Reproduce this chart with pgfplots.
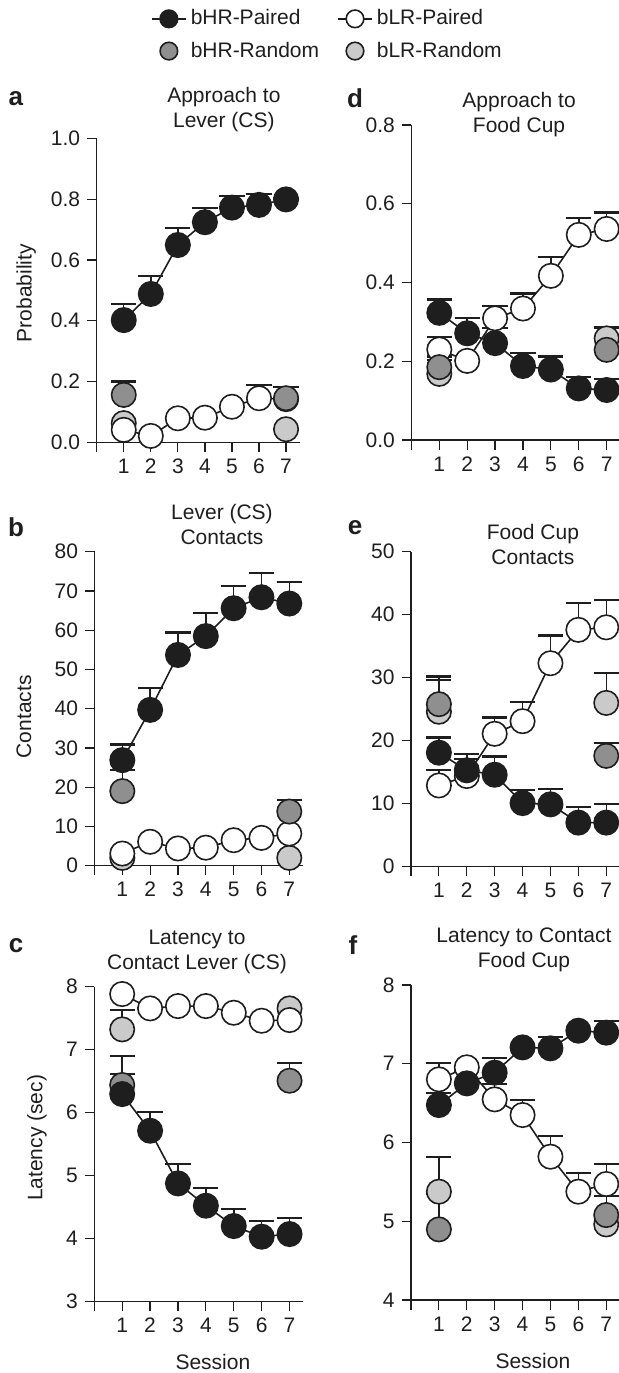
\documentclass[border=0pt]{standalone}
\usepackage{fontspec}
\setmainfont{Liberation Sans}
\usepackage{pgfplots}
\usepackage{pgfplotstable}
\pgfplotsset{compat=1.18}

\definecolor{ink}{RGB}{30,30,30}
\definecolor{hrcol}{RGB}{30,30,30}
\definecolor{hrrand}{RGB}{143,143,143}
\definecolor{lrrand}{RGB}{202,202,202}
\newcommand\fs{\fontsize{10.5}{12.5}\selectfont}

% x  hp hpe (bHR-Paired)  lp lpe (bLR-Paired)  hr hre (bHR-Random)  lr lre (bLR-Random)
\pgfplotstableread{
x hp    hpe   lp    lpe   hr    hre   lr    lre
1 0.402 0.053 0.041 0     0.156 0.044 0.063 0
2 0.488 0.059 0.021 0     nan   nan   nan   nan
3 0.649 0.057 0.079 0     nan   nan   nan   nan
4 0.724 0.048 0.081 0     nan   nan   nan   nan
5 0.772 0.039 0.117 0     nan   nan   nan   nan
6 0.781 0.035 0.145 0.044 nan   nan   nan   nan
7 0.799 0.005 0.142 0     0.145 0.038 0.043 0
}\tabA
\pgfplotstableread{
x hp    hpe   lp    lpe   hr    hre   lr    lre
1 26.9  4.0   3.1   0     19.0  5.4   2.0   0
2 39.7  5.5   6.1   0     nan   nan   nan   nan
3 53.7  5.7   4.4   0     nan   nan   nan   nan
4 58.5  5.8   4.6   0     nan   nan   nan   nan
5 65.6  5.7   6.5   0     nan   nan   nan   nan
6 68.4  6.2   7.1   0     nan   nan   nan   nan
7 66.8  5.4   8.2   0     13.8  2.9   2.0   0
}\tabB
\pgfplotstableread{
x hp    hpe   lp    lpe   hr    hre   lr    lre
1 6.296 0.314 7.884 0     6.44  0.46  7.323 0.307
2 5.714 0.302 7.656 0     nan   nan   nan   nan
3 4.878 0.302 7.693 0     nan   nan   nan   nan
4 4.524 0.286 7.693 0     nan   nan   nan   nan
5 4.201 0.265 7.587 0     nan   nan   nan   nan
6 4.032 0.248 7.460 0     nan   nan   nan   nan
7 4.074 0.249 7.471 0     6.508 0.286 7.656 0
}\tabC
\pgfplotstableread{
x hp    hpe   lp    lpe   hr    hre   lr    lre
1 0.323 0.034 0.230 0.031 0.185 0.027 0.168 0.035
2 0.271 0.038 0.201 0     nan   nan   nan   nan
3 0.246 0.038 0.309 0.032 nan   nan   nan   nan
4 0.188 0.034 0.334 0.038 nan   nan   nan   nan
5 0.179 0.033 0.417 0.047 nan   nan   nan   nan
6 0.131 0.030 0.521 0.043 nan   nan   nan   nan
7 0.127 0.027 0.536 0.042 0.229 0     0.258 0.028
}\tabD
\pgfplotstableread{
x hp    hpe   lp    lpe   hr    hre   lr    lre
1 18.1  2.4   12.9  2.4   25.8  3.9   24.6  5.6
2 15.3  1.8   14.4  3.5   nan   nan   nan   nan
3 14.6  2.9   21.1  2.6   nan   nan   nan   nan
4 10.1  2.1   23.1  3.0   nan   nan   nan   nan
5 9.9   2.4   32.3  4.4   nan   nan   nan   nan
6 7.0   2.5   37.6  4.2   nan   nan   nan   nan
7 7.0   2.9   38.0  4.4   17.6  2.0   26.0  4.7
}\tabE
\pgfplotstableread{
x hp    hpe   lp    lpe   hr    hre   lr    lre
1 6.476 0.157 6.802 0.203 4.897 0.449 5.376 0.444
2 6.751 0.160 6.955 0     nan   nan   nan   nan
3 6.887 0.182 6.548 0.195 nan   nan   nan   nan
4 7.208 0     6.349 0.191 nan   nan   nan   nan
5 7.196 0.148 5.820 0.263 nan   nan   nan   nan
6 7.420 0     5.376 0.241 nan   nan   nan   nan
7 7.395 0.152 5.473 0.254 5.079 0.241 4.960 0
}\tabF

\tikzset{
  letter/.style={font=\bfseries\fontsize{13}{15}\selectfont, text=ink},
  head/.style={font=\fs, align=center, anchor=center, text=ink, inner sep=0pt},
}

\pgfplotsset{
  panel/.style={
    scale only axis,
    anchor=south west,
    axis lines=left,
    axis line style={-, line width=0.6pt, ink},
    tick align=outside,
    major tick length=4.75pt,
    tick style={line width=0.6pt, ink},
    xmin=0,
    xtick={0,...,7},
    xticklabels={,1,2,3,4,5,6,7},
    clip=false,
    ticklabel style={font=\fs, text=ink},
    /pgf/number format/assume math mode=true,
    label style={font=\fs, text=ink},
  },
  errs/.style={
    error bars/.cd, y dir=plus, y explicit,
    error mark=|,
    error mark options={line width=1.1pt, mark size=6.3pt, ink},
    error bar style={line width=0.75pt, ink},
  },
  hrpaired/.style={ink, line width=0.8pt, mark=*, mark size=6.1pt,
    mark options={fill=hrcol, draw=ink, line width=0.8pt}},
  lrpaired/.style={ink, line width=0.8pt, mark=*, mark size=6.1pt,
    mark options={fill=white, draw=ink, line width=0.8pt}},
  hrrandom/.style={only marks, mark=*, mark size=6.1pt,
    mark options={fill=hrrand, draw=ink, line width=0.8pt}},
  lrrandom/.style={only marks, mark=*, mark size=6.1pt,
    mark options={fill=lrrand, draw=ink, line width=0.8pt}},
}

\newcommand\series[1]{%
  \addplot[lrrandom, errs] table[x=x, y=lr, y error=lre] {#1};
  \addplot[lrpaired, errs] table[x=x, y=lp, y error=lpe] {#1};
  \addplot[hrrandom, errs] table[x=x, y=hr, y error=hre] {#1};
  \addplot[hrpaired, errs] table[x=x, y=hp, y error=hpe] {#1};
}

\begin{document}
\begin{tikzpicture}
\path[use as bounding box] (0,0) rectangle (309.5pt,-686.5pt);
\clip (0,0) rectangle (309.5pt,-686.5pt);

% a
\begin{axis}[panel,
    at={(48.35pt,-221.15pt)}, width=101.45pt, height=152pt,
    xmax=7.5, ymin=0, ymax=1,
    ytick={0,0.2,0.4,0.6,0.8,1},
    yticklabel style={/pgf/number format/.cd, fixed, fixed zerofill, precision=1},
    ylabel={Probability},
    ylabel style={at={(axis description cs:-0.348,0.491)}, anchor=center},
    legend columns=2,
    legend style={draw=none, fill=none, font=\fs, text=ink,
      at={(axis description cs:1.142,1.340)}, anchor=center,
      row sep=3pt,
      /tikz/every even column/.append style={column sep=7pt}},
    legend cell align=left,
]
\addlegendimage{hrpaired, mark size=4.4pt}
\addlegendentry{bHR-Paired}
\addlegendimage{lrpaired, mark size=4.4pt}
\addlegendentry{bLR-Paired}
\addlegendimage{hrrandom, mark size=4.4pt}
\addlegendentry{bHR-Random}
\addlegendimage{lrrandom, mark size=4.4pt}
\addlegendentry{bLR-Random}
\pgfplotsset{every axis plot/.append style={forget plot}}
\series{\tabA}
\node[head] at (axis description cs:0.627,1.093) {Approach to\\Lever (CS)};
\node[letter] at (axis description cs:-0.398,1.132) {a};
\end{axis}

% b
\begin{axis}[panel,
    at={(47.25pt,-432.85pt)}, width=104.35pt, height=157pt,
    xmax=7.5, ymin=0, ymax=80,
    ytick={0,10,...,80},
    ylabel={Contacts},
    ylabel style={at={(axis description cs:-0.338,0.474)}, anchor=center},
]
\series{\tabB}
\node[head] at (axis description cs:0.611,1.088) {Lever (CS)\\Contacts};
\node[letter] at (axis description cs:-0.376,1.079) {b};
\end{axis}

% c
\begin{axis}[panel,
    at={(47.15pt,-650.85pt)}, width=104.6pt, height=157.5pt,
    xmax=7.5, ymin=3, ymax=8,
    ytick={3,4,...,8},
    ylabel={Latency (sec)},
    ylabel style={at={(axis description cs:-0.274,0.520)}, anchor=center},
    xlabel={Session},
    xlabel style={at={(axis description cs:0.567,-0.190)}, anchor=center},
]
\series{\tabC}
\node[head] at (axis description cs:0.491,1.112) {Latency to\\Contact Lever (CS)};
\node[letter] at (axis description cs:-0.374,1.132) {c};
\end{axis}

% d
\begin{axis}[panel,
    at={(205.7pt,-220pt)}, width=106pt, height=157.5pt,
    xmax=7.6, ymin=0, ymax=0.8,
    ytick={0,0.2,0.4,0.6,0.8},
    yticklabel style={/pgf/number format/.cd, fixed, fixed zerofill, precision=1},
]
\series{\tabD}
\node[head] at (axis description cs:0.508,1.032) {Approach to\\Food Cup};
\node[letter] at (axis description cs:-0.266,1.086) {d};
\end{axis}

% e
\begin{axis}[panel,
    at={(205.5pt,-433.35pt)}, width=106pt, height=157.5pt,
    xmax=7.6, ymin=0, ymax=50,
    ytick={0,10,...,50},
]
\series{\tabE}
\node[head] at (axis description cs:0.575,1.024) {Food Cup\\Contacts};
\node[letter] at (axis description cs:-0.264,1.078) {e};
\end{axis}

% f
\begin{axis}[panel,
    at={(205.5pt,-650pt)}, width=106pt, height=157.5pt,
    xmax=7.6, ymin=4, ymax=8,
    ytick={4,5,...,8},
    xlabel={Session},
    xlabel style={at={(axis description cs:0.575,-0.194)}, anchor=center},
]
\series{\tabF}
\node[head] at (axis description cs:0.533,1.113) {Latency to Contact\\Food Cup};
\node[letter] at (axis description cs:-0.274,1.127) {f};
\end{axis}
\end{tikzpicture}
\end{document}
